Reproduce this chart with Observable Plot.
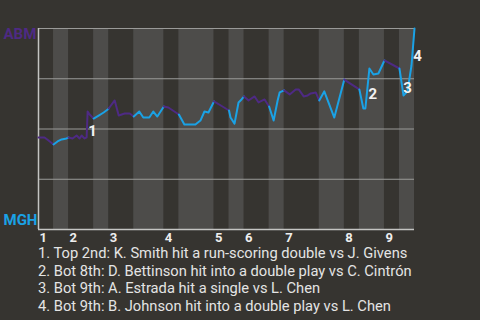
<!DOCTYPE html>
<html><head><meta charset="utf-8">
<script src="https://cdn.jsdelivr.net/npm/d3@7"></script>
<script src="https://cdn.jsdelivr.net/npm/@observablehq/plot@0.6"></script>
<style>
html,body{margin:0;padding:0;background:#363430;}
body{width:480px;height:320px;overflow:hidden;font-family:Roboto,sans-serif;}
#chart svg{display:block;}
#caption{padding-left:38px;color:#e4e4e4;font-size:14.7px;line-height:17.7px;white-space:nowrap;}
</style></head><body>
<div id="chart"></div>
<div id="caption"></div>
<script>
const teams = ["ABM", "MGH"];
const teamColors = ["#4e2a84", "#1aa2e6"];
const innings = ["1","2","3","4","5","6","7","8","9"];
// plate appearances in each half-inning (top, bottom, top, bottom, ...)
const halfInningPAs = [3,3, 5,3, 5,6, 3,7, 3,3, 5,3, 7,5, 3,5, 3,3];
// game progress (plate appearances) and ABM win probability (%)
const progress = [0,1.2,2.0,3,3.8,4.6,5.6,6,6.8,7.6,8.2,8.6,9.2,9.6,9.8,10.2,11,12,13,13.8,14,15.2,16,17.2,18.2,19,20.1,20.9,22.1,22.9,23.7,25,25.9,27.1,28,29.1,31.3,32.3,33.1,33.9,35,36.7,38,38.3,39.1,39.9,40.5,41,41.9,43.1,43.9,45.1,46,46.9,47.7,48.1,49,50.1,51.3,51.9,52.9,53.7,54.3,55.3,56,57,59,61,62.2,64,64.8,65.2,66,66.8,67.8,69,72,72.8,73.6,74.4,75];
const abmWinPct = [45.8,45.8,44.3,42.3,43.8,44.8,45.3,45.8,45.3,46.8,45.3,46.8,45.3,45.8,58.7,57.2,55.2,56.7,58.2,59.7,60.2,64.2,56.7,57.7,57.7,56.2,58.7,55.7,55.7,58.7,56.2,61.2,60.7,58.7,57.2,52.2,52.2,54.2,58.7,58.2,63.7,61.2,59.2,55.7,52.7,63.2,64.7,66.2,64.2,66.2,63.2,64.7,61.2,54.2,64.2,68.2,69.2,67.2,69.7,69.7,66.2,66.7,67.7,68.2,64.2,68.7,55.7,74.6,72.6,69.7,60.2,60.2,80.1,77.1,77.6,84.1,80.1,66.7,68.7,81.6,100];
const gridPct = [0,25,50,75,100];
const eventLabels = ["1","2","3","4"];
const eventLabelPA = [10.8, 66.7, 73.6, 75.6];
const eventLabelPct = [48.8, 67.4, 70.4, 86.1];
const eventTexts = [
  "1. Top 2nd: K. Smith hit a run-scoring double vs J. Givens",
  "2. Bot 8th: D. Bettinson hit into a double play vs C. Cintrón",
  "3. Bot 9th: A. Estrada hit a single vs L. Chen",
  "4. Bot 9th: B. Johnson hit into a double play vs L. Chen"
];

// half-inning boundaries
const bounds = [0];
halfInningPAs.forEach(n => bounds.push(bounds[bounds.length-1] + n));
const halves = halfInningPAs.map((n, i) => ({i, x1: bounds[i], x2: bounds[i+1], team: teams[i % 2]}));
const inningStarts = innings.map((d, k) => bounds[2*k]);

const pts = progress.map((x, k) => ({x, y: abmWinPct[k]}));
const lineRows = [];
halves.forEach(h => {
  pts.filter(p => p.x >= h.x1 && p.x <= h.x2).forEach(p => lineRows.push({...p, half: h.i, team: h.team}));
});
const ann = eventLabels.map((t, k) => ({t, x: eventLabelPA[k], y: eventLabelPct[k]}));

const W = 480, H = 245;
const chart = Plot.plot({
  width: W, height: H,
  marginLeft: 38, marginRight: 66, marginTop: 28, marginBottom: H - 229,
  style: {background: "transparent", fontFamily: "Roboto, sans-serif", overflow: "visible"},
  x: {domain: [0, 75], axis: null},
  y: {domain: [0, 100], axis: null},
  color: {domain: teams, range: teamColors},
  marks: [
    Plot.rect(halves.filter(h => h.i % 2 === 1), {x1: "x1", x2: "x2", y1: 0, y2: 100, fill: "#4d4c4a"}),
    Plot.ruleY(gridPct.filter(d => d > 0), {stroke: "#9a9a98", strokeWidth: 1}),
    Plot.ruleY([0], {stroke: "#c4c4c2", strokeWidth: 1.5}),
    Plot.ruleX([0], {stroke: "#c4c4c2", strokeWidth: 1.5}),
    Plot.line(lineRows, {x: "x", y: "y", z: "half", stroke: "team", strokeWidth: 2, curve: "linear"}),
    Plot.text(ann, {x: "x", y: "y", text: "t", fill: "#f2f2f2", fontSize: 15, fontWeight: "bold"}),
    Plot.text(innings, {x: inningStarts, text: d => d, frameAnchor: "bottom", textAnchor: "start", lineAnchor: "middle", dx: 1, dy: 8, fill: "#eeeeee", fontSize: 13, fontWeight: "bold"}),
    Plot.text([teams[0]], {text: d => d, frameAnchor: "top-left", textAnchor: "start", lineAnchor: "middle", dx: -35, dy: 6, fill: teamColors[0], fontSize: 15, fontWeight: "bold"}),
    Plot.text([teams[1]], {text: d => d, frameAnchor: "bottom-left", textAnchor: "start", lineAnchor: "middle", dx: -35, dy: -9, fill: teamColors[1], fontSize: 15, fontWeight: "bold"})
  ]
});
document.getElementById("chart").appendChild(chart);
const cap = document.getElementById("caption");
eventTexts.forEach(t => { const d = document.createElement("div"); d.textContent = t; cap.appendChild(d); });
</script>
</body></html>
